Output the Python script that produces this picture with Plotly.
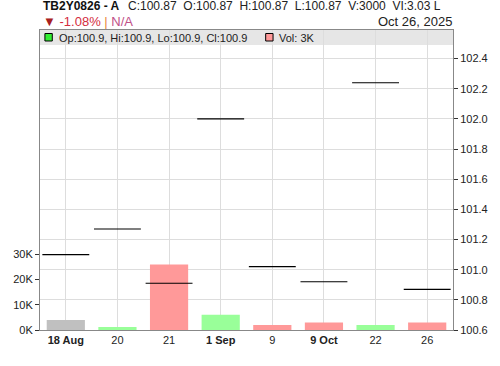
import plotly.graph_objects as go

# ---- data ----
dates = ["2025-08-18", "2025-08-20", "2025-08-21", "2025-09-01",
         "2025-09-09", "2025-10-09", "2025-10-22", "2025-10-26"]
tick_labels = ["<b>18 Aug</b>", "20", "21", "<b>1 Sep</b>", "9", "<b>9 Oct</b>", "22", "26"]
close_prices = [101.10, 101.27, 100.91, 102.00, 101.02, 100.92, 102.24, 100.87]
volumes = [4000, 1200, 26000, 6000, 2000, 3000, 2000, 3000]
vol_ticks = [0, 10000, 20000, 30000]
vol_tick_text = ["0K", "10K", "20K", "30K"]

# bar colours by price direction (first bar neutral)
bar_colors = ["#c0c0c0"]
for i in range(1, len(close_prices)):
    bar_colors.append("#99ff99" if close_prices[i] >= close_prices[i - 1] else "#ff9999")

FONT = "Liberation Sans, Arial, sans-serif"
TXT = "#222222"
W, H = 500, 366
ML, MR, MT, MB = 40, 40, 30, 36
PW, PH = W - ML - MR, H - MT - MB


def px_x(x):
    return (x - ML) / PW


def px_y(y):
    return (H - MB - y) / PH


fig = go.Figure()
fig.add_trace(go.Bar(
    x=dates, y=volumes, marker=dict(color=bar_colors, line=dict(width=0)),
    width=0.74, yaxis="y", hoverinfo="skip", showlegend=False,
))
fig.add_trace(go.Scatter(
    x=dates, y=close_prices, yaxis="y2", mode="markers",
    marker=dict(symbol="line-ew", size=33.5, color="black",
                line=dict(width=1.2, color="black")),
    hoverinfo="skip", showlegend=False,
))

shapes = [
    dict(type="rect", xref="paper", yref="paper", x0=0, x1=1,
         y0=px_y(45), y1=1, fillcolor="#e6e6e6", line=dict(width=0), layer="below"),
    dict(type="rect", xref="paper", yref="paper", x0=px_x(45), x1=px_x(52.5),
         y0=px_y(41), y1=px_y(33.5), fillcolor="#33ee33", line=dict(width=1, color="black")),
    dict(type="rect", xref="paper", yref="paper", x0=px_x(269.5), x1=px_x(277),
         y0=px_y(41), y1=px_y(33.5), fillcolor="#ff9999", line=dict(width=1, color="black")),
]

annotations = [
    dict(text="<b>TB2Y0826 - A</b>", x=px_x(41), y=px_y(6.5), xref="paper", yref="paper",
         xanchor="left", yanchor="middle", showarrow=False,
         font=dict(family=FONT, size=12, color="#111111")),
    dict(text="C:100.87\u00a0\u00a0O:100.87\u00a0\u00a0H:100.87\u00a0\u00a0L:100.87\u00a0\u00a0V:3000\u00a0\u00a0VI:3.03 L",
         x=px_x(127), y=px_y(6.5), xref="paper", yref="paper",
         xanchor="left", yanchor="middle", showarrow=False,
         font=dict(family=FONT, size=12, color=TXT)),
    dict(text="<span style='color:#a82020'>▼</span> <span style='color:#d42c40'>-1.08%</span> "
              "<span style='color:#e8883c'>|</span> <span style='color:#c05088'>N/A</span>",
         x=px_x(41), y=px_y(21.5), xref="paper", yref="paper",
         xanchor="left", yanchor="middle", showarrow=False,
         font=dict(family=FONT, size=13, color="#d42c40")),
    dict(text="Oct 26, 2025", x=px_x(461), y=px_y(21.5), xref="paper", yref="paper",
         xanchor="right", yanchor="middle", showarrow=False,
         font=dict(family=FONT, size=13, color=TXT)),
    dict(text="Op:100.9, Hi:100.9, Lo:100.9, Cl:100.9", x=px_x(57), y=px_y(37.5),
         xref="paper", yref="paper", xanchor="left", yanchor="middle", showarrow=False,
         font=dict(family=FONT, size=11, color=TXT)),
    dict(text="Vol: 3K", x=px_x(281), y=px_y(37.5),
         xref="paper", yref="paper", xanchor="left", yanchor="middle", showarrow=False,
         font=dict(family=FONT, size=11, color=TXT)),
]

fig.update_layout(
    width=W, height=H, margin=dict(l=ML, r=MR, t=MT, b=MB),
    paper_bgcolor="white", plot_bgcolor="white",
    font=dict(family=FONT, size=11, color=TXT),
    bargap=0.26,
    xaxis=dict(type="category", categoryorder="array", categoryarray=dates,
               tickvals=dates, ticktext=tick_labels, range=[-0.5, len(dates) - 0.5],
               showgrid=True, gridcolor="#dddddd", gridwidth=1,
               showline=True, linecolor="#888888", linewidth=1, mirror=True,
               ticks="", tickfont=dict(size=11, color=TXT), fixedrange=True),
    yaxis=dict(range=[0, 119000], tickvals=vol_ticks, ticktext=vol_tick_text,
               showgrid=False, zeroline=False, showline=True, linecolor="#888888",
               ticks="outside", ticklen=4, tickcolor="#333333",
               tickfont=dict(size=11, color=TXT), side="left"),
    yaxis2=dict(range=[100.6, 102.59], dtick=0.2, tick0=100.6, tickformat=".1f",
                overlaying="y", side="right", showgrid=True, gridcolor="#dddddd",
                zeroline=False, showline=True, linecolor="#888888",
                ticks="outside", ticklen=4, tickcolor="#333333",
                tickfont=dict(size=11, color=TXT)),
    shapes=shapes, annotations=annotations,
)

fig.write_html("out.html")
